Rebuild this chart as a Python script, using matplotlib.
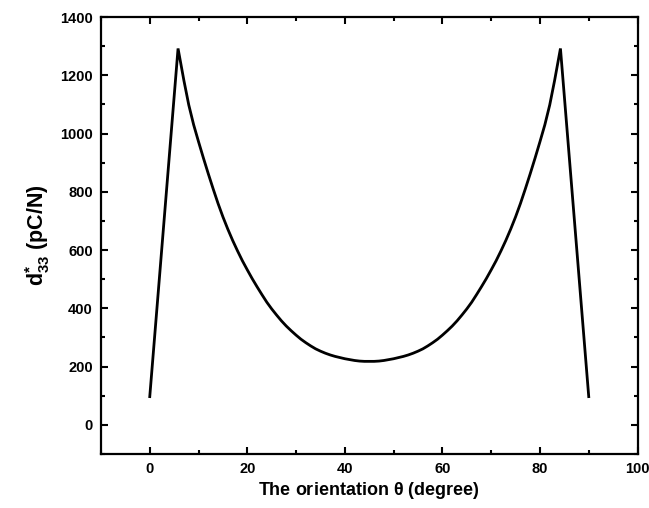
import matplotlib
matplotlib.use("Agg")
import matplotlib.pyplot as plt
from matplotlib.ticker import MultipleLocator

# orientation angle (degree) and effective d33* values
theta = [0, 5.8, 7, 8, 9, 10, 11, 12, 13, 14, 15, 16, 17, 18, 19, 20, 21, 22, 23, 24, 25,
         26, 27, 28, 29, 30, 31, 32, 33, 34, 35, 36, 37, 38, 39, 40, 41, 42, 43, 44, 45,
         46, 47, 48, 49, 50, 51, 52, 53, 54, 55, 56, 57, 58, 59, 60, 61, 62, 63, 64, 65,
         66, 67, 68, 69, 70, 71, 72, 73, 74, 75, 76, 77, 78, 79, 80, 81, 82, 83, 84.2, 90]
d33 = [97, 1292, 1182, 1098, 1030, 972, 916, 862, 810, 760, 714, 672, 633, 597, 563, 532, 502, 474, 447, 421, 398,
       377, 357, 339, 323, 308, 294, 282, 271, 261, 253, 246, 240, 235, 231, 227, 224, 221, 219, 218, 218,
       218, 219, 221, 224, 227, 231, 235, 240, 246, 253, 261, 271, 282, 294, 308, 323, 339, 357, 377, 398,
       421, 447, 474, 502, 532, 563, 597, 633, 672, 714, 760, 810, 862, 916, 972, 1030, 1098, 1182, 1292, 97]

x_ticks = [0, 20, 40, 60, 80, 100]
y_ticks = [0, 200, 400, 600, 800, 1000, 1200, 1400]

plt.rcParams['font.family'] = ['Liberation Sans', 'DejaVu Sans']
plt.rcParams['font.weight'] = 'bold'
plt.rcParams['mathtext.fontset'] = 'custom'
plt.rcParams['mathtext.rm'] = 'Liberation Sans:bold'
plt.rcParams['mathtext.bf'] = 'Liberation Sans:bold'
plt.rcParams['mathtext.it'] = 'Liberation Sans:bold'

fig = plt.figure(figsize=(6.49, 5.08), dpi=100)
ax = fig.add_axes([0.1556, 0.1063, 0.8267, 0.8602])

ax.plot(theta, d33, color='black', linewidth=2.0, solid_joinstyle='miter')

ax.set_xlim(-10, 100)
ax.set_ylim(-100, 1400)
ax.set_xticks(x_ticks)
ax.set_yticks(y_ticks)
ax.xaxis.set_minor_locator(MultipleLocator(10))
ax.yaxis.set_minor_locator(MultipleLocator(100))

ax.tick_params(which='both', direction='in', top=True, right=True, width=1.5, labelsize=10.5)
ax.tick_params(which='major', length=5, pad=6)
ax.tick_params(which='minor', length=3)
for lab in ax.get_xticklabels() + ax.get_yticklabels():
    lab.set_fontweight('bold')
for sp in ax.spines.values():
    sp.set_linewidth(1.6)

ax.set_xlabel(r'The orientation $\mathrm{\theta}$ (degree)', fontsize=13, fontweight='bold', labelpad=3)
ax.set_ylabel(r'$\mathbf{d}_{\mathbf{33}}^{\mathbf{*}}$ (pC/N)', fontsize=15.5, fontweight='bold', labelpad=6)

fig.savefig('out.png', dpi=100)
